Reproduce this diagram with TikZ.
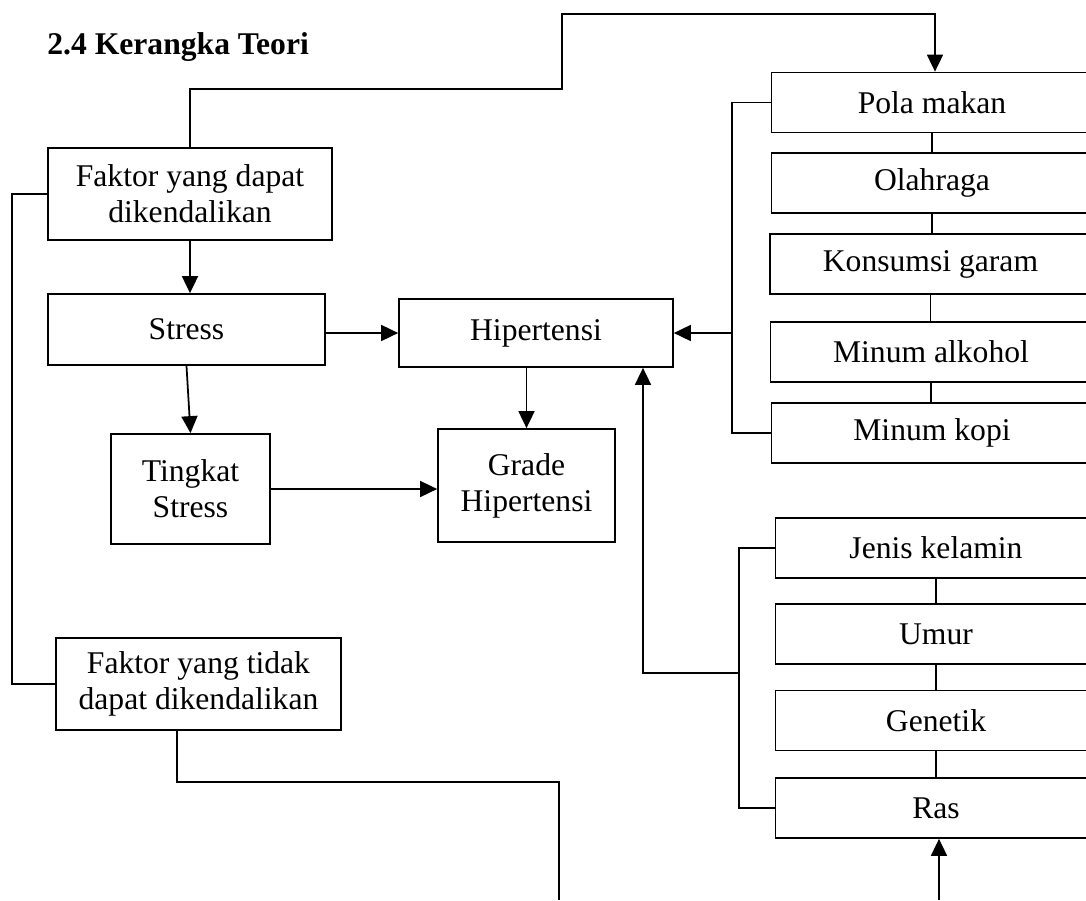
\documentclass[tikz,border=0pt]{standalone}
\usepackage{fontspec}
\setmainfont{Liberation Serif}
\usetikzlibrary{arrows.meta}

\begin{document}
\begin{tikzpicture}[x=0.02cm,y=-0.02cm,
    box/.style={draw,line width=1pt,inner sep=2pt,align=center,font=\fontsize{18}{20.5}\selectfont},
    sbox/.style={box,minimum width=6.42cm,minimum height=1.2cm},
    arr/.style={-{Triangle[length=3.4mm,width=3.2mm]},line width=1pt},
    ln/.style={line width=1pt}]
  \useasboundingbox (0,0) rectangle (1086,900);
  \clip (0,0) rectangle (1086,900);

  \node[anchor=base west,inner sep=0pt,font=\fontsize{18}{20.5}\selectfont\bfseries] (judul) at (47,54) {2.4 Kerangka Teori};

  % kolom kiri
  \node[box,minimum width=5.68cm,minimum height=1.84cm] (fdk) at (190,194) {Faktor yang dapat\\dikendalikan};
  \node[box,minimum width=5.54cm,minimum height=1.42cm] (stress) at (186.5,329.5) {Stress};
  \node[box,minimum width=3.18cm,minimum height=2.2cm] (tingkat) at (190.5,489) {Tingkat\\Stress};
  \node[box,minimum width=5.7cm,minimum height=1.84cm] (fts) at (198.5,684) {Faktor yang tidak\\dapat dikendalikan};

  % tengah
  \node[box,minimum width=5.48cm,minimum height=1.36cm] (hip) at (536,333) {Hipertensi};
  \node[box,minimum width=3.54cm,minimum height=2.26cm] (grade) at (526.5,485.5) {Grade\\Hipertensi};

  % faktor dapat dikendalikan
  \node[sbox] (pola) at (932,102.5) {Pola makan};
  \node[sbox] (olah) at (932,183) {Olahraga};
  \node[sbox] (garam) at (930.5,264) {Konsumsi garam};
  \node[sbox] (alkohol) at (931,352) {Minum alkohol};
  \node[sbox] (kopi) at (932,433) {Minum kopi};

  % faktor tidak dapat dikendalikan
  \node[sbox] (jenis) at (936,548) {Jenis kelamin};
  \node[sbox] (umur) at (936,634) {Umur};
  \node[sbox] (genetik) at (936,720.5) {Genetik};
  \node[sbox] (ras) at (936,808) {Ras};

  % garis
  \coordinate (t1) at (562,89);
  \coordinate (t2) at (935,14);
  \draw[arr] (fdk.north) |- (t1) |- (t2) -- (t2 |- pola.north);

  \coordinate (kiri) at (12,0);
  \draw[ln] (fdk.west) -- (kiri |- fdk.west) -- (kiri |- fts.west) -- (fts.west);

  \draw[arr] (fdk.south) -- (fdk.south |- stress.north);
  \draw[arr] (stress.south) -- (tingkat.north);
  \draw[arr] (stress.east |- hip.west) -- (hip.west);
  \draw[arr] (tingkat.east) -- (tingkat.east -| grade.west);
  \draw[arr] (grade.north |- hip.south) -- (grade.north);

  \coordinate (ka) at (732,0);
  \draw[ln] (pola.west) -- (ka |- pola.west) -- (ka |- kopi.west) -- (kopi.west);
  \draw[arr] (ka |- hip.east) -- (hip.east);
  \foreach \a/\b in {pola/olah,olah/garam,garam/alkohol,alkohol/kopi,jenis/umur,umur/genetik,genetik/ras}
    \draw[ln] (\a.south) -- (\a.south |- \b.north);

  \coordinate (kb) at (739,0);
  \draw[ln] (jenis.west) -- (kb |- jenis.west) -- (kb |- ras.west) -- (ras.west);
  \coordinate (kc) at (643,673);
  \draw[arr] (kb |- kc) -- (kc) -- (kc |- hip.south);

  \coordinate (b0) at (177,0);
  \coordinate (b1) at (559,782);
  \coordinate (bawah) at (559,900);
  \draw[ln] (b0 |- fts.south) |- (b1) -- (bawah);

  \coordinate (rasbawah) at (939,900);
  \draw[arr] (rasbawah) -- (rasbawah |- ras.south);
\end{tikzpicture}
\end{document}
